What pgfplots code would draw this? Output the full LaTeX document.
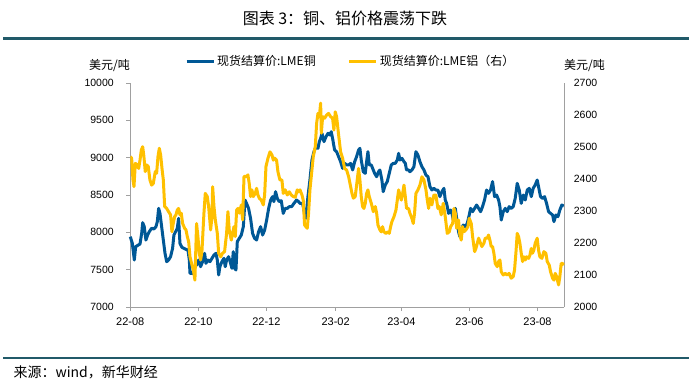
\documentclass[border=0pt]{standalone}
\usepackage{pgfplots}
\pgfplotsset{compat=1.18}
\usepackage{fontspec}
\setmainfont{Liberation Sans}
\newfontfamily\cjk{Noto Sans CJK SC}
\definecolor{cu}{RGB}{0,88,150}
\definecolor{al}{RGB}{255,192,0}
\definecolor{hdr}{RGB}{33,90,105}
\definecolor{axgray}{RGB}{160,160,160}
\begin{document}
\begin{tikzpicture}
\useasboundingbox (0pt,0pt) rectangle (690pt,381pt);
\begin{axis}[
  at={(130.3pt,74pt)}, anchor=south west,
  scale only axis, width=434pt, height=224pt,
  xmin=0, xmax=389, ymin=7000, ymax=10000,
  scaled ticks=false,
  axis x line*=bottom, axis y line*=left,
  axis line style={draw=axgray, line width=0.8pt},
  tick style={draw=axgray, line width=0.8pt},
  tick align=outside, major tick length=4pt,
  xtick={0,61,122,184,243,304,365},
  xticklabels={22-08,22-10,22-12,23-02,23-04,23-06,23-08},
  ytick={7000,7500,8000,8500,9000,9500,10000},
  /pgf/number format/assume math mode=true,
  /pgf/number format/1000 sep={},
  yticklabel style={font=\fontsize{10.5}{12}\selectfont, xshift=-9pt},
  xticklabel style={font=\fontsize{11}{13}\selectfont, yshift=-3pt},
  legend style={at={(0.508,1.098)}, anchor=center, draw=none, fill=none,
    font=\cjk\fontsize{12}{14}\selectfont, inner sep=0pt,
    /tikz/every even column/.append style={column sep=30pt}},
  legend columns=2,
  legend image code/.code={\draw[#1] (0pt,0pt) -- (27pt,0pt);},
  clip=false,
]
\addplot[cu, line width=3pt, line join=round] coordinates {
(0,7942)(1.8,7853)(3.6,7629)(4.8,7808)(7.2,7830)(8.7,7844)(10.2,7987)(11.1,8129)(12.5,8076)(14.0,7897)(15.5,7964)(17.0,8009)(19.1,8054)(21.2,8045)(23.0,8076)(24.2,8143)(25.4,8321)(26.6,8254)(28.1,8076)(29.6,7897)(31.1,7719)(32.6,7607)(34.3,7629)(36.1,7674)(37.9,7786)(39.1,7964)(40.6,8009)(42.1,8054)(43.3,8187)(44.5,7853)(46.3,7799)(48.1,7786)(49.9,7772)(51.7,7763)(52.9,7629)(53.5,7451)(55.9,7451)(57.7,7540)(59.4,7562)(61.2,7629)(63.0,7540)(64.8,7607)(66.6,7719)(67.8,7585)(69.6,7629)(71.4,7607)(73.2,7652)(75.0,7696)(76.8,7719)(78.0,7629)(79.2,7429)(80.3,7540)(82.1,7607)(83.9,7652)(85.1,7540)(86.3,7629)(88.1,7674)(89.9,7585)(91.1,7518)(92.3,7741)(93.5,7518)(94.7,7496)(95.9,7875)(97.7,7920)(99.5,7964)(101.3,8076)(102.8,8433)(104.2,8388)(106.0,8321)(107.8,8187)(109.6,7987)(111.4,7920)(113.2,7897)(115.0,8009)(116.8,8076)(118.6,7964)(120.4,8031)(122.2,8165)(124.0,8321)(125.8,8433)(127.5,8478)(128.7,8411)(130.2,8545)(131.7,8455)(133.5,8411)(135.3,8424)(137.1,8254)(138.9,8321)(140.7,8321)(142.5,8344)(144.6,8344)(146.7,8388)(149.0,8433)(150.8,8411)(152.1,8388)(154.4,8388)(156.2,8254)(157.4,8187)(159.2,8478)(161.0,8701)(162.8,8969)(164.6,9080)(166.4,9147)(168.2,9125)(169.4,9214)(170.6,9259)(171.8,9326)(173.6,9214)(175.4,9281)(177.2,9326)(179.0,9303)(180.1,9348)(181.3,9259)(183.1,9103)(184.9,9080)(186.7,9013)(188.5,8946)(190.3,8857)(192.1,8924)(193.9,8902)(195.7,8902)(197.5,8924)(199.3,8835)(201.1,8946)(202.8,9013)(204.6,9103)(205.8,9125)(207.0,8969)(208.8,8812)(210.6,8790)(211.8,8946)(213.0,9080)(214.2,8902)(216.0,8902)(217.2,8857)(219.0,8790)(220.8,8745)(222.5,8812)(223.7,8835)(225.5,8701)(226.7,8545)(228.5,8634)(230.3,8679)(232.1,8790)(233.9,8902)(235.7,8924)(237.5,8924)(239.3,8969)(240.5,9058)(241.7,8969)(243.5,8991)(245.3,8946)(246.5,8924)(247.6,8835)(249.4,8835)(250.6,8812)(252.4,8835)(254.2,8879)(256.0,9080)(257.8,9036)(259.6,8946)(261.4,8879)(263.2,8835)(265.0,8768)(266.8,8745)(268.6,8612)(270.3,8567)(272.1,8589)(273.9,8567)(275.7,8567)(277.5,8478)(279.3,8545)(281.1,8589)(282.3,8433)(283.5,8388)(285.3,8254)(287.1,8299)(288.3,8254)(289.5,8165)(291.3,8321)(292.5,8187)(294.2,8009)(295.4,7942)(296.6,8031)(298.4,8098)(300.2,8076)(302.0,8120)(303.8,8232)(305.0,8321)(306.8,8277)(308.6,8321)(310.4,8366)(312.2,8321)(314.0,8277)(315.7,8344)(317.5,8433)(319.3,8567)(321.1,8522)(322.9,8567)(324.7,8679)(326.5,8478)(328.3,8500)(330.1,8433)(331.3,8344)(332.5,8165)(334.3,8277)(336.1,8321)(337.8,8277)(339.6,8344)(341.4,8321)(343.2,8344)(345.0,8455)(346.8,8656)(348.6,8567)(350.4,8388)(352.2,8500)(354.0,8433)(355.8,8567)(357.6,8589)(359.4,8478)(361.1,8589)(362.9,8634)(364.7,8701)(365.9,8612)(367.7,8478)(369.5,8455)(371.3,8478)(373.1,8388)(374.9,8277)(376.7,8254)(378.5,8232)(379.7,8143)(381.5,8232)(383.3,8210)(385.0,8299)(386.8,8366)(388.6,8353)
};
\addlegendentry{现货结算价:LME铜}
\addlegendimage{al, line width=3pt}
\addlegendentry{现货结算价:LME铝（右）}
\end{axis}
\begin{axis}[
  at={(130.3pt,74pt)}, anchor=south west,
  scale only axis, width=434pt, height=224pt,
  xmin=0, xmax=389, ymin=2000, ymax=2700,
  scaled ticks=false,
  axis x line=none, axis y line*=right,
  axis line style={draw=axgray, line width=0.8pt},
  ytick={2000,2100,2200,2300,2400,2500,2600,2700},
  ytick style={draw=none},
  /pgf/number format/assume math mode=true,
  /pgf/number format/1000 sep={},
  yticklabel style={font=\fontsize{10.5}{12}\selectfont, xshift=6pt},
]
\addplot[al, line width=3pt, line join=round] coordinates {
(0,2470)(1.2,2465)(2.4,2397)(3.3,2376)(4.5,2449)(6.3,2444)(7.5,2433)(8.7,2459)(9.9,2491)(11.1,2501)(12.2,2470)(13.4,2423)(14.6,2444)(16.1,2439)(17.6,2397)(19.1,2381)(20.6,2386)(22.4,2423)(23.6,2418)(24.8,2470)(26.0,2496)(27.2,2475)(28.4,2433)(29.6,2397)(30.8,2314)(32.6,2308)(34.3,2298)(36.1,2288)(37.3,2235)(38.5,2261)(39.7,2282)(40.9,2288)(42.1,2303)(43.3,2308)(44.5,2288)(45.7,2293)(46.9,2261)(48.7,2246)(49.9,2241)(51.1,2220)(52.3,2204)(53.5,2157)(55.3,2131)(56.5,2116)(57.9,2084)(59.4,2261)(60.6,2220)(61.8,2168)(63.0,2147)(64.2,2173)(66.0,2293)(67.2,2355)(69.0,2345)(70.2,2314)(72.0,2241)(73.2,2282)(73.8,2376)(75.0,2314)(76.2,2272)(78.0,2230)(79.2,2168)(81.0,2157)(82.7,2168)(84.5,2173)(86.3,2230)(87.5,2298)(88.7,2241)(90.5,2209)(91.7,2230)(92.9,2251)(94.1,2220)(95.3,2303)(96.5,2308)(97.7,2293)(99.5,2319)(100.7,2272)(101.9,2407)(103.0,2409)(104.2,2407)(105.4,2413)(106.6,2386)(107.8,2345)(109.0,2366)(110.2,2345)(112.0,2355)(113.2,2371)(114.4,2350)(115.6,2340)(117.4,2334)(119.2,2319)(120.4,2350)(121.6,2439)(123.4,2465)(125.2,2485)(127.0,2475)(128.2,2459)(129.4,2465)(131.1,2459)(132.3,2423)(134.1,2397)(135.9,2397)(137.1,2355)(138.9,2366)(140.7,2350)(142.5,2360)(144.3,2350)(146.1,2345)(147.9,2343)(149.6,2366)(150.8,2360)(152.1,2366)(153.9,2350)(155.0,2334)(156.2,2256)(157.4,2251)(158.6,2246)(159.8,2293)(161.0,2366)(162.8,2428)(164.0,2470)(165.8,2501)(167.0,2574)(168.2,2605)(169.4,2595)(170.6,2637)(171.2,2543)(172.4,2595)(174.2,2590)(176.0,2600)(177.7,2605)(179.5,2595)(181.3,2590)(182.5,2553)(183.7,2610)(184.9,2595)(186.7,2538)(188.5,2485)(190.3,2465)(192.1,2433)(193.9,2428)(195.7,2407)(196.9,2386)(198.7,2355)(199.9,2340)(201.6,2345)(203.4,2397)(204.6,2433)(205.8,2397)(207.0,2345)(208.2,2314)(209.4,2308)(210.6,2324)(211.8,2355)(213.0,2366)(214.2,2345)(216.0,2324)(217.8,2298)(219.6,2314)(220.8,2293)(222.0,2256)(223.7,2241)(224.9,2235)(226.1,2251)(227.3,2235)(229.1,2230)(230.9,2235)(232.1,2230)(233.3,2251)(234.5,2267)(236.3,2282)(238.1,2303)(239.3,2334)(240.5,2366)(241.7,2350)(242.9,2334)(244.1,2355)(245.3,2381)(246.5,2345)(247.6,2308)(249.4,2308)(250.6,2293)(252.4,2277)(253.6,2261)(254.8,2293)(256.0,2355)(257.8,2366)(259.6,2381)(261.4,2407)(263.2,2397)(265.0,2366)(266.2,2334)(267.4,2308)(268.6,2340)(270.3,2319)(272.1,2350)(273.9,2350)(275.7,2308)(276.9,2314)(278.7,2288)(280.5,2324)(282.3,2282)(284.1,2230)(285.9,2235)(287.1,2251)(288.9,2261)(290.1,2308)(291.3,2293)(292.5,2246)(294.2,2272)(295.4,2225)(296.6,2209)(297.8,2251)(299.0,2235)(300.8,2241)(302.6,2251)(303.8,2277)(305.6,2261)(306.8,2220)(308.6,2173)(309.8,2183)(311.0,2199)(312.2,2215)(313.4,2204)(315.1,2189)(316.9,2199)(318.1,2215)(319.9,2215)(321.1,2225)(322.3,2209)(323.5,2189)(324.7,2189)(325.9,2168)(327.1,2136)(328.9,2126)(330.1,2142)(331.3,2147)(332.5,2110)(334.3,2100)(336.1,2105)(337.8,2100)(339.6,2105)(341.4,2090)(343.2,2095)(344.4,2116)(345.6,2168)(346.8,2230)(348.0,2220)(349.2,2199)(350.4,2168)(351.6,2142)(352.8,2157)(354.0,2147)(355.2,2157)(357.0,2152)(358.2,2162)(359.4,2183)(360.5,2168)(361.7,2178)(362.9,2199)(364.7,2215)(365.9,2178)(367.1,2157)(368.9,2152)(370.7,2173)(372.5,2168)(373.7,2142)(375.5,2131)(376.7,2110)(378.5,2090)(379.7,2084)(380.9,2105)(382.1,2095)(383.9,2069)(385.0,2095)(386.2,2136)(387.4,2136)(388.6,2131)
};
\end{axis}
\node[font=\cjk\fontsize{16}{18}\selectfont] at (345pt,363pt) {图表 3：铜、铝价格震荡下跌};
\draw[hdr, line width=3pt] (3pt,342.5pt) -- (689pt,342.5pt);
\draw[hdr, line width=2.4pt] (3pt,23pt) -- (689pt,23pt);
\node[font=\cjk\fontsize{14}{16}\selectfont, anchor=west] at (10pt,9pt) {来源：wind，新华财经};
\node[font=\cjk\fontsize{12}{14}\selectfont] at (109.6pt,315pt) {美元/吨};
\node[font=\cjk\fontsize{12}{14}\selectfont] at (584.5pt,315pt) {美元/吨};
\end{tikzpicture}
\end{document}
